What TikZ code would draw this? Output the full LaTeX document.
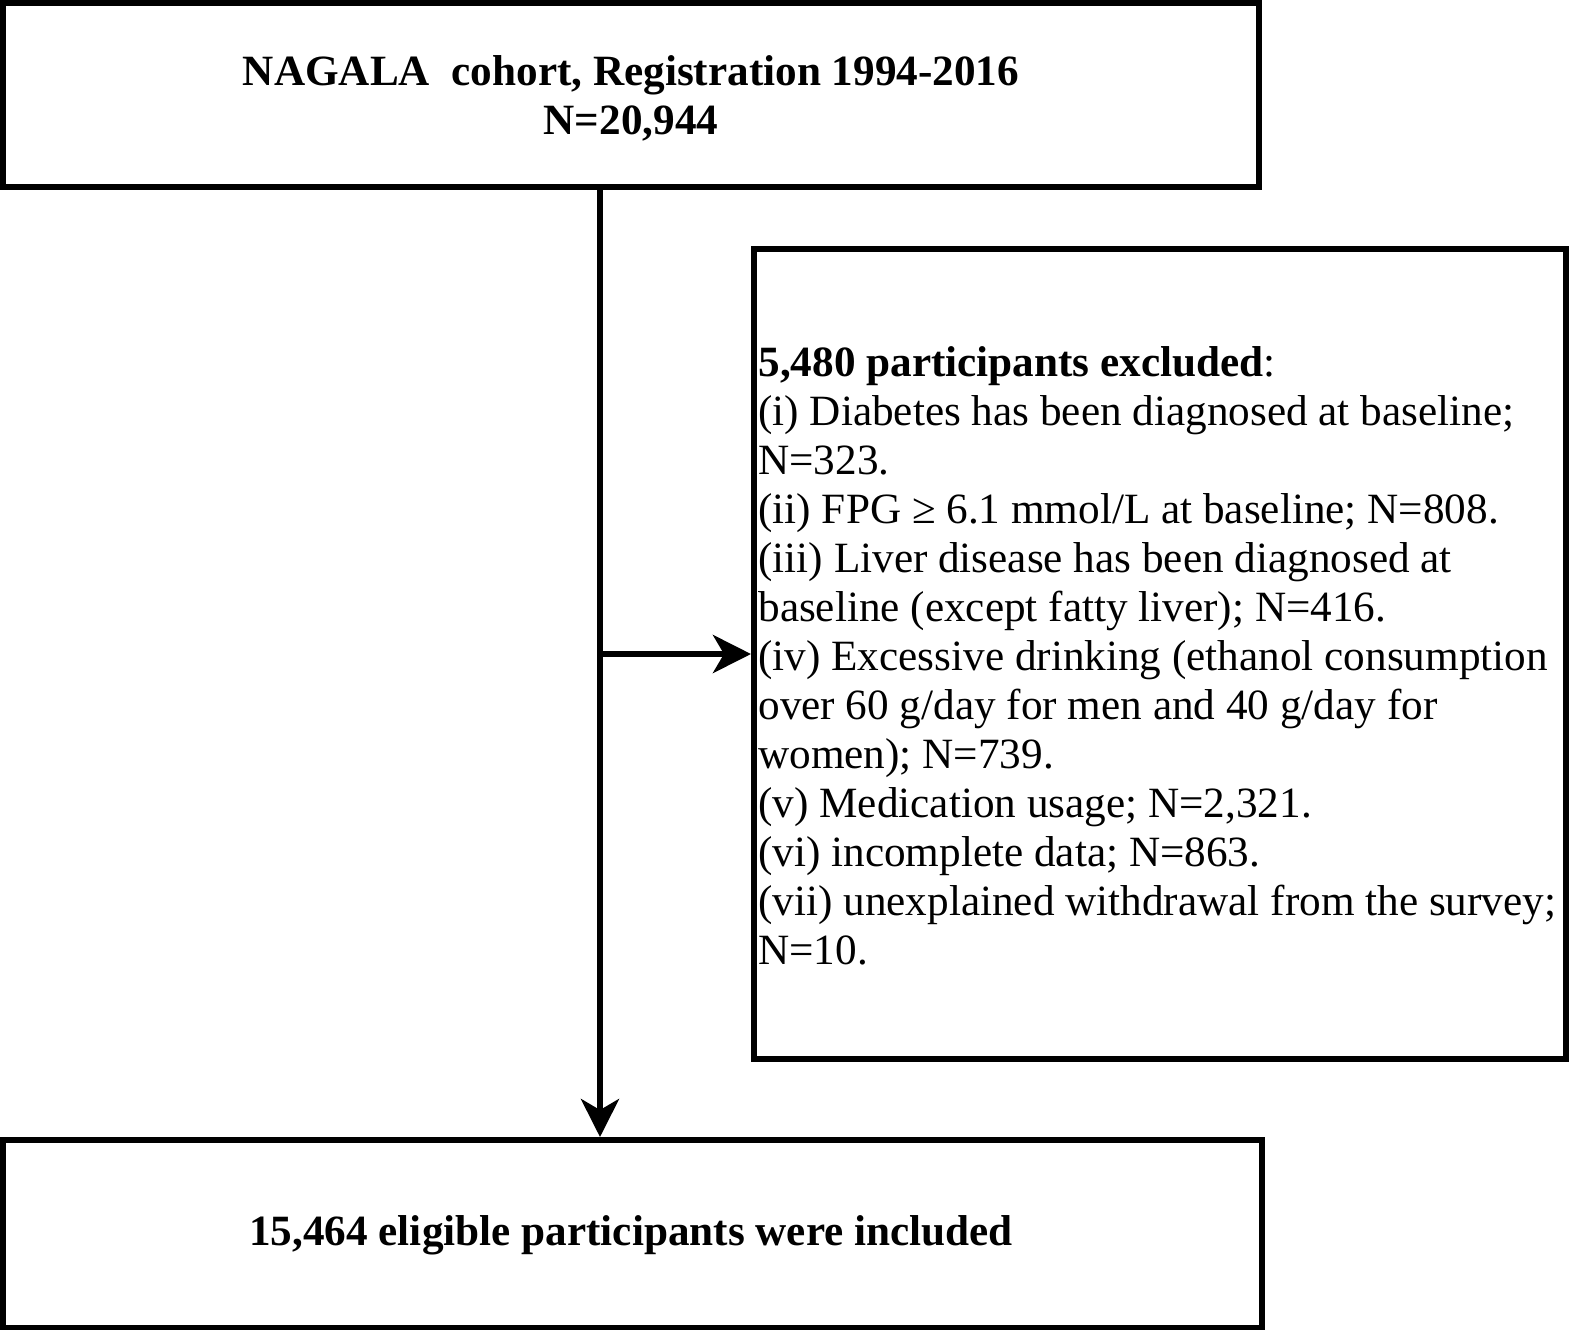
\documentclass[tikz,border=0pt]{standalone}
\usepackage{fontspec}
\setmainfont{Liberation Serif}
\usetikzlibrary{arrows.meta}
\begin{document}
\begin{tikzpicture}[x=0.5pt,y=-0.5pt,
  boxline/.style={draw=black,line width=3pt},
  conn/.style={line width=3pt,-{Stealth[length=19pt,width=19pt,inset=5.5pt]}},
  txt/.style={inner sep=0pt,font=\fontsize{21.6}{24.5}\selectfont}]
\useasboundingbox (0,0) rectangle (1575,1329);
\fill[white] (0,0) rectangle (1575,1329);
% boxes
\node[boxline,minimum width=1256pt*0.5,minimum height=184pt*0.5,inner sep=0pt] (top) at (631,95) {};
\node[txt,align=center,font=\fontsize{21.6}{24.5}\selectfont\bfseries] (toptext) at (631,98) {NAGALA\ \ cohort, Registration 1994-2016\\N=20,944};
\node[boxline,minimum width=1259pt*0.5,minimum height=188pt*0.5,inner sep=0pt] (bot) at (632.5,1234) {};
\node[txt,font=\fontsize{21.6}{24.5}\selectfont\bfseries] (bottext) at (631,1235) {15,464 eligible participants were included};
\node[boxline,minimum width=812pt*0.5,minimum height=810pt*0.5,inner sep=0pt] (excl) at (1160,654) {};
\node[txt,align=left,anchor=west] (excltext) at (758,656) {\textbf{5,480 participants excluded}:\\
(i) Diabetes has been diagnosed at baseline;\\
N=323.\\
(ii) FPG ≥ 6.1 mmol/L at baseline; N=808.\\
(iii) Liver disease has been diagnosed at\\
baseline (except fatty liver); N=416.\\
(iv) Excessive drinking (ethanol consumption\\
over 60 g/day for men and 40 g/day for\\
women); N=739.\\
(v) Medication usage; N=2,321.\\
(vi) incomplete data; N=863.\\
(vii) unexplained withdrawal from the survey;\\
N=10.};
\draw[conn] (top.south -| 600,0) -- (bot.north -| 600,0);
\draw[conn] (600,0 |- excl.west) -- (excl.west);
\end{tikzpicture}
\end{document}
